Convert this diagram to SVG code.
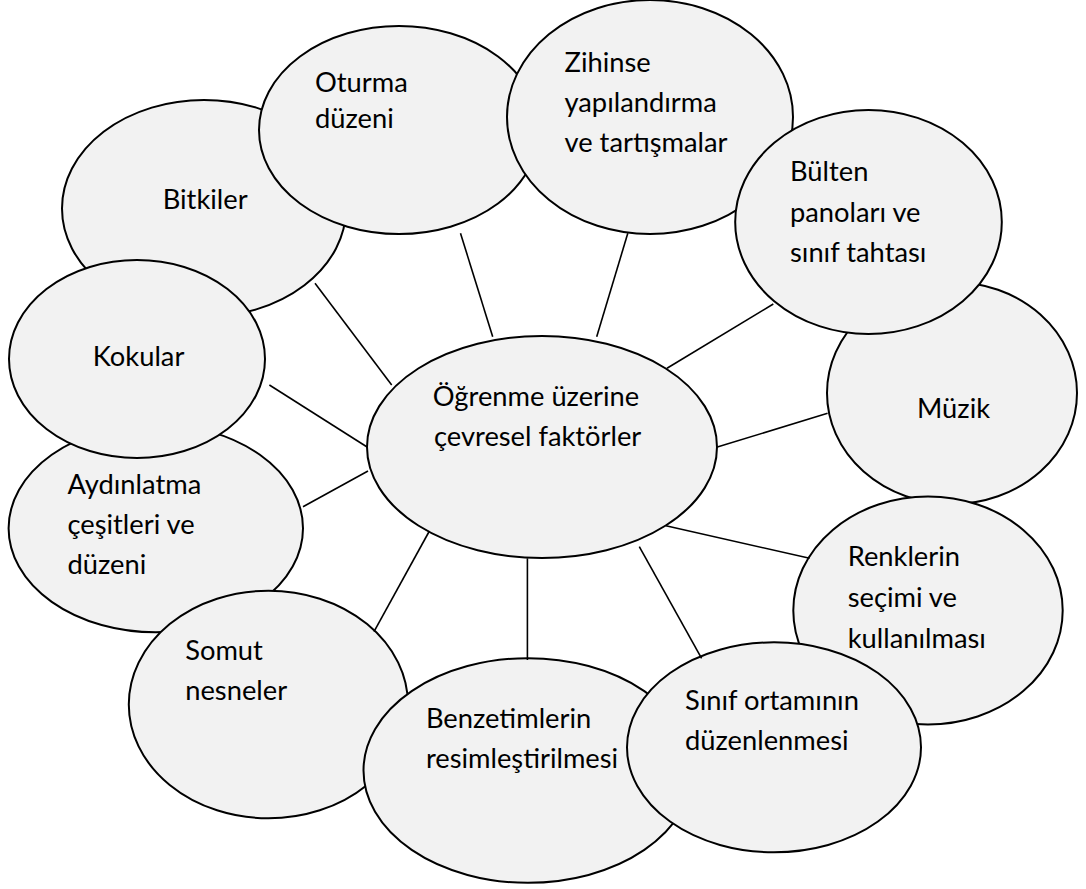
<svg xmlns="http://www.w3.org/2000/svg" width="1086" height="889" viewBox="0 0 1086 889">
<style>
.n{fill:#f2f2f2;stroke:#000;stroke-width:2}
.t{font-family:Lato,"Liberation Sans",sans-serif;font-size:27.3px;fill:#000}
.c line{stroke:#000;stroke-width:1.6}
</style>
<rect width="1086" height="889" fill="#fff"/>
<g id="bitkiler"><ellipse class="n" cx="204" cy="208.5" rx="142" ry="108.5"/><text class="t" x="162.7" y="209">Bitkiler</text></g>
<g id="oturma"><ellipse class="n" cx="399" cy="130" rx="140" ry="104"/><text class="t" x="315" y="91.7">Oturma</text><text class="t" x="315" y="128.3">düzeni</text></g>
<g id="zihinse"><ellipse class="n" cx="650" cy="117" rx="143" ry="117"/><text class="t" x="564.5" y="71.7">Zihinse</text><text class="t" x="564.5" y="111.7">yapılandırma</text><text class="t" x="564.5" y="151.7">ve tartışmalar</text></g>
<g id="muzik"><ellipse class="n" cx="952" cy="393" rx="125" ry="111"/><text class="t" x="917" y="418.3">Müzik</text></g>
<g id="bulten"><ellipse class="n" cx="868.5" cy="222" rx="133.3" ry="112"/><text class="t" x="790" y="181">Bülten</text><text class="t" x="790" y="221.5">panoları ve</text><text class="t" x="790" y="261.7">sınıf tahtası</text></g>
<g id="renkler"><ellipse class="n" cx="928" cy="610.5" rx="134.7" ry="114"/><text class="t" x="847.7" y="565.7">Renklerin</text><text class="t" x="847.7" y="607">seçimi ve</text><text class="t" x="847.7" y="647.7">kullanılması</text></g>
<g id="aydinlatma"><ellipse class="n" cx="155.8" cy="528.3" rx="147.2" ry="104"/><text class="t" x="67.5" y="493.5">Aydınlatma</text><text class="t" x="67.5" y="534">çeşitleri ve</text><text class="t" x="67.5" y="574.3">düzeni</text></g>
<g id="kokular"><ellipse class="n" cx="137" cy="359" rx="128" ry="99"/><text class="t" x="92.8" y="366">Kokular</text></g>
<g id="somut"><ellipse class="n" cx="268.4" cy="704.5" rx="139.6" ry="113.8"/><text class="t" x="185.2" y="660">Somut</text><text class="t" x="185.2" y="700">nesneler</text></g>
<g id="benzetim"><ellipse class="n" cx="528" cy="770.5" rx="164.5" ry="112.3"/><text class="t" x="425.9" y="728">Benzetimlerin</text><text class="t" x="425.9" y="768.3">resimleştirilmesi</text></g>
<g id="sinif"><ellipse class="n" cx="774" cy="747.3" rx="147" ry="105"/><text class="t" x="685" y="710">Sınıf ortamının</text><text class="t" x="685" y="750">düzenlenmesi</text></g>
<g id="merkez"><ellipse class="n" cx="542" cy="447" rx="175" ry="111"/><text class="t" x="432.8" y="406">Öğrenme üzerine</text><text class="t" x="434" y="446">çevresel faktörler</text></g>
<g id="connectors" class="c">
<line x1="315" y1="283.3" x2="391.7" y2="385"/>
<line x1="460.5" y1="233.3" x2="492.7" y2="336.7"/>
<line x1="627.8" y1="233.3" x2="596.7" y2="336.7"/>
<line x1="773.3" y1="304" x2="667" y2="368.3"/>
<line x1="827.6" y1="413.3" x2="717.3" y2="447"/>
<line x1="269.4" y1="385" x2="367.5" y2="447.2"/>
<line x1="303" y1="506.7" x2="368" y2="471"/>
<line x1="374" y1="631.7" x2="429.4" y2="531"/>
<line x1="527.4" y1="660" x2="527.4" y2="558.3"/>
<line x1="701.6" y1="658.3" x2="639.3" y2="546.7"/>
<line x1="809.6" y1="558.3" x2="665.9" y2="525.7"/>
</g>
</svg>
